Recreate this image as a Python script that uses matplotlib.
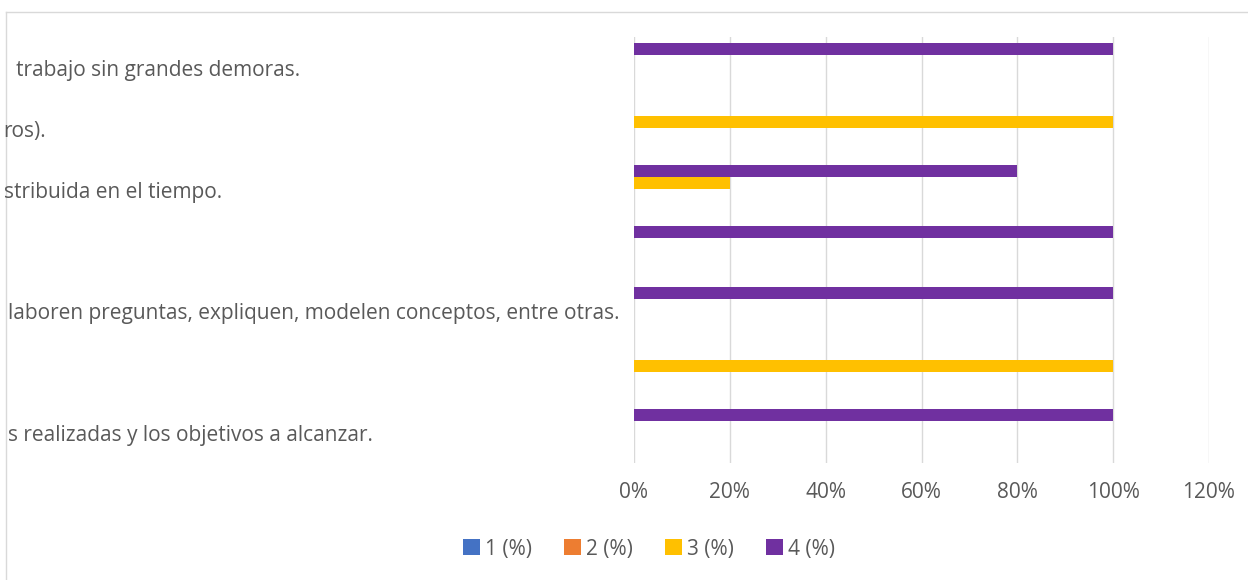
import matplotlib
matplotlib.use("Agg")
import matplotlib.pyplot as plt
from matplotlib.lines import Line2D
from matplotlib.patches import Patch
import numpy as np

plt.rcParams['font.family'] = ['Open Sans', 'DejaVu Sans']

# Categories top to bottom (only the visible right-hand part of each label)
categories = [
    "trabajo sin grandes demoras.",
    "ros).",
    "stribuida en el tiempo.",
    "",
    "laboren preguntas, expliquen, modelen conceptos, entre otras.",
    "",
    "s realizadas y los objetivos a alcanzar.",
]
series_names = ["1 (%)", "2 (%)", "3 (%)", "4 (%)"]
s1 = [0, 0, 0, 0, 0, 0, 0]
s2 = [0, 0, 0, 0, 0, 0, 0]
s3 = [0, 100, 20, 0, 0, 100, 0]
s4 = [100, 0, 80, 100, 100, 0, 100]
xticks = [0, 20, 40, 60, 80, 100, 120]
xtick_labels = ["0%", "20%", "40%", "60%", "80%", "100%", "120%"]

colors = ["#4472C4", "#ED7D31", "#FFC000", "#7030A0"]
label_right_px = [300, 46, 222, None, 620, None, 373]

W, H = 1248, 580
fig = plt.figure(figsize=(W / 100, H / 100), dpi=100)
ax = fig.add_axes([634 / W, 1 - 463 / H, (1209 - 634) / W, (463 - 37) / H])

y = np.arange(len(categories))
h = 12 / 60.8
offsets = [1.5 * h, 0.5 * h, -0.5 * h, -1.5 * h]
for vals, off, c in zip([s1, s2, s3, s4], offsets, colors):
    ax.barh(y + off, vals, height=h, color=c, linewidth=0, zorder=3)

ax.set_xlim(0, 120)
ax.set_ylim(len(categories) - 0.5, -0.5)
ax.set_xticks(xticks)
ax.set_xticklabels(xtick_labels)
ax.set_yticks([])
ax.grid(axis='x', color='#D9D9D9', linewidth=1, zorder=0)
for s in ax.spines.values():
    s.set_visible(False)
ax.tick_params(axis='x', length=0, pad=14, labelsize=15, labelcolor='#595959')

# category labels (cut off at the left edge of the picture)
fig.canvas.draw()
for i, (lab, xr) in enumerate(zip(categories, label_right_px)):
    if lab and xr is not None:
        yy = ax.transData.transform((0, i))[1] - 3
        fig.text(xr / W, yy / H, lab, ha='right', va='center', fontsize=15,
                 color='#595959')

# outer frame of the chart area
fig.add_artist(Line2D([6 / W, 1], [1 - 12 / H, 1 - 12 / H], color='#D9D9D9', lw=1, transform=fig.transFigure))
fig.add_artist(Line2D([6 / W, 6 / W], [0, 1 - 12 / H], color='#D9D9D9', lw=1, transform=fig.transFigure))

handles = [Patch(facecolor=c, edgecolor='none') for c in colors]
fig.legend(handles, series_names, loc='center', bbox_to_anchor=(649 / W, 1 - 549 / H),
           ncol=4, frameon=False, fontsize=15, labelcolor='#595959',
           handlelength=0.8, handleheight=0.8, handletextpad=0.25, columnspacing=1.55)

fig.savefig("out.png", dpi=100)
